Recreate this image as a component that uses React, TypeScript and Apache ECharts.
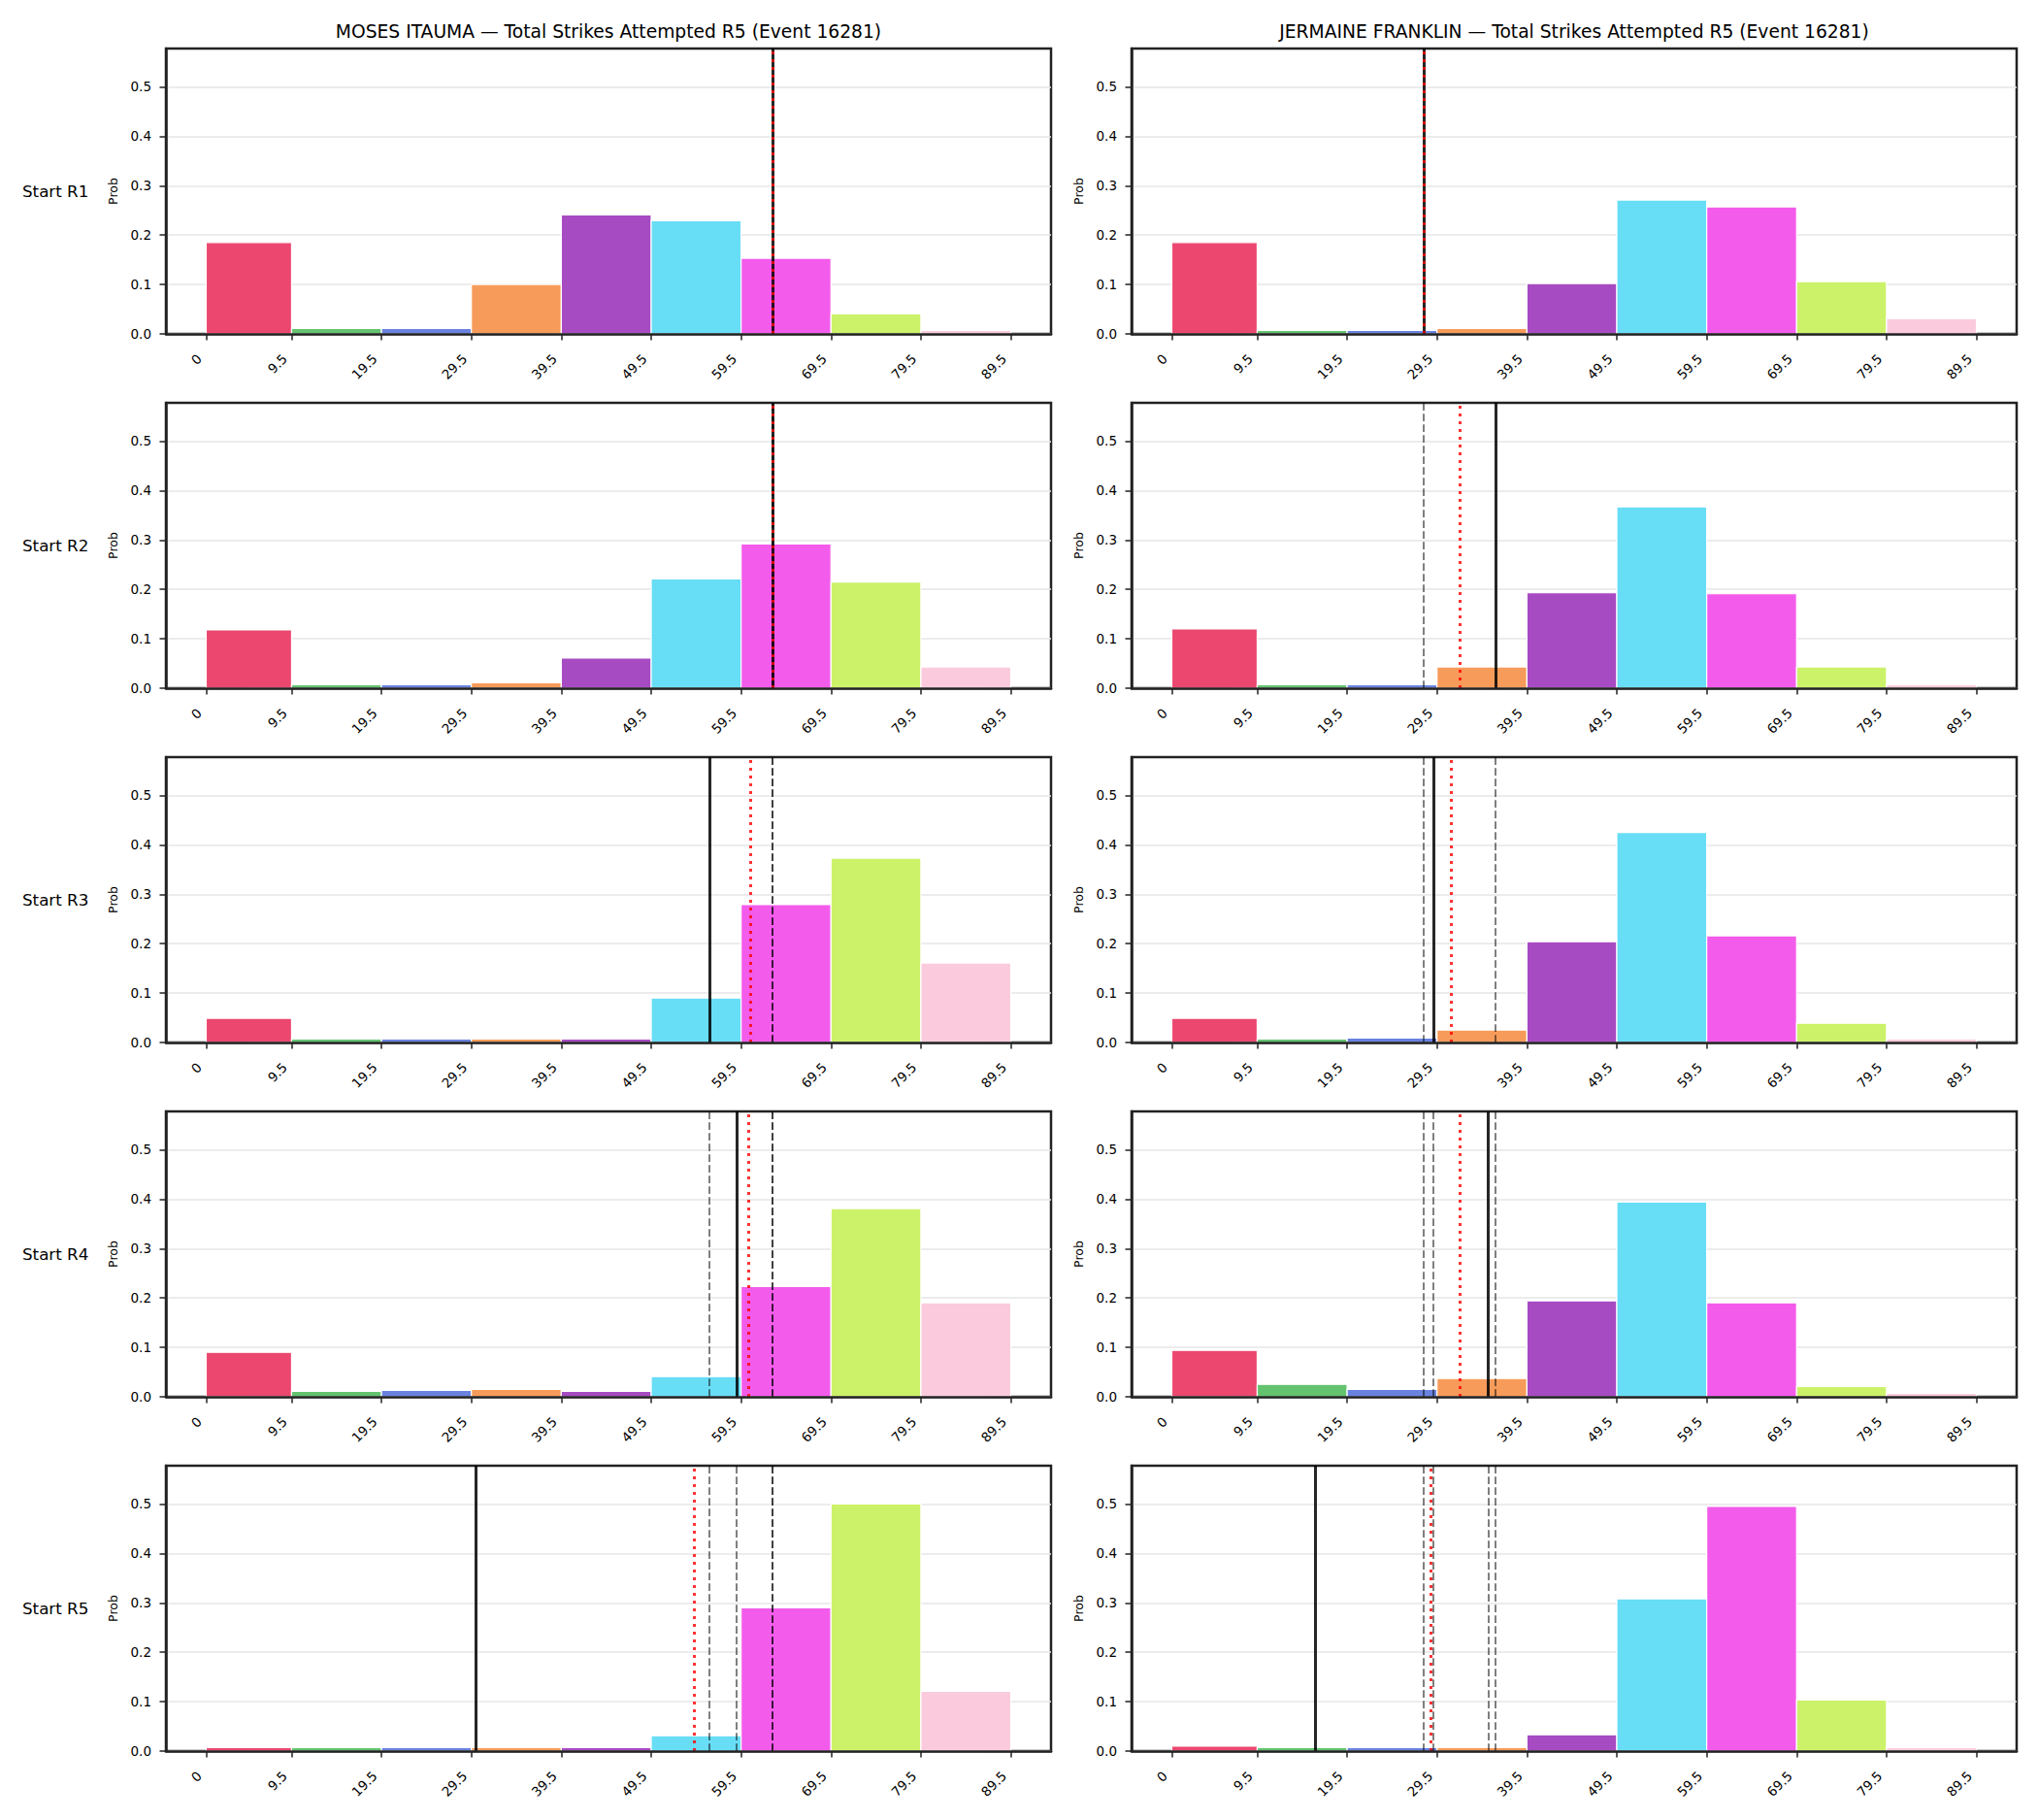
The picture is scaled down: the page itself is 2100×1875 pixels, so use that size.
import React, { useEffect, useRef } from "react";
import * as echarts from "echarts";

// ---- data ----
const BIN_EDGES = [0, 9.5, 19.5, 29.5, 39.5, 49.5, 59.5, 69.5, 79.5, 89.5];
const Y_TICKS = [0, 0.1, 0.2, 0.3, 0.4, 0.5];
const BIN_COLORS = [
  "#eb476f", "#63c36f", "#6982e0", "#f79b5a", "#a74bc3",
  "#68ddf6", "#f35beb", "#ccf26a", "#fbcbdd",
];
const ROW_LABELS = ["Start R1", "Start R2", "Start R3", "Start R4", "Start R5"];
const TITLE_LEFT = "MOSES ITAUMA — Total Strikes Attempted R5 (Event 16281)";
const TITLE_RIGHT = "JERMAINE FRANKLIN — Total Strikes Attempted R5 (Event 16281)";

const ITAUMA_R1 = [0.185, 0.011, 0.011, 0.1, 0.241, 0.229, 0.153, 0.041, 0.007];
const ITAUMA_R2 = [0.118, 0.007, 0.007, 0.011, 0.061, 0.221, 0.292, 0.215, 0.043];
const ITAUMA_R3 = [0.049, 0.007, 0.007, 0.007, 0.007, 0.09, 0.279, 0.373, 0.161];
const ITAUMA_R4 = [0.09, 0.011, 0.013, 0.015, 0.011, 0.041, 0.223, 0.381, 0.19];
const ITAUMA_R5 = [0.007, 0.007, 0.007, 0.007, 0.007, 0.031, 0.29, 0.5, 0.121];

const FRANKLIN_R1 = [0.185, 0.007, 0.007, 0.011, 0.102, 0.271, 0.257, 0.106, 0.031];
const FRANKLIN_R2 = [0.12, 0.007, 0.007, 0.043, 0.193, 0.367, 0.191, 0.043, 0.007];
const FRANKLIN_R3 = [0.049, 0.007, 0.009, 0.025, 0.204, 0.425, 0.216, 0.039, 0.007];
const FRANKLIN_R4 = [0.094, 0.025, 0.015, 0.037, 0.194, 0.394, 0.19, 0.021, 0.007];
const FRANKLIN_R5 = [0.01, 0.007, 0.007, 0.007, 0.033, 0.308, 0.495, 0.1035, 0.007];

// solid line (value at that start), red dotted (mean)
const ITAUMA_ACTUAL = [63, 63, 56, 59, 30];
const ITAUMA_MEAN = [63, 63, 60.5, 60.3, 54.3];
const FRANKLIN_ACTUAL = [28, 36, 29.1, 35.2, 16];
const FRANKLIN_MEAN = [28, 32, 31.1, 32, 28.8];

const ITAUMA_ROWS = [ITAUMA_R1, ITAUMA_R2, ITAUMA_R3, ITAUMA_R4, ITAUMA_R5];
const FRANKLIN_ROWS = [FRANKLIN_R1, FRANKLIN_R2, FRANKLIN_R3, FRANKLIN_R4, FRANKLIN_R5];

// ---- layout ----
const FONT = "DejaVu Sans";
const COL_LEFT = [171, 1166];
const PLOT_W = 912;
const ROW_TOP0 = 50;
const ROW_STEP = 365;
const PLOT_H = 294;
const X_MIN = -4.475;
const X_MAX = 93.975;
const Y_MAX = 0.5775;

function buildOption() {
  const grid: any[] = [];
  const xAxis: any[] = [];
  const yAxis: any[] = [];
  const series: any[] = [];
  const graphic: any[] = [];

  const cols = [
    { rows: ITAUMA_ROWS, actual: ITAUMA_ACTUAL, mean: ITAUMA_MEAN, title: TITLE_LEFT },
    { rows: FRANKLIN_ROWS, actual: FRANKLIN_ACTUAL, mean: FRANKLIN_MEAN, title: TITLE_RIGHT },
  ];

  cols.forEach((col, c) => {
    graphic.push({
      type: "text",
      x: COL_LEFT[c] + PLOT_W / 2,
      y: 32,
      style: {
        text: col.title,
        fontSize: 18.7,
        fontFamily: FONT,
        fill: "#000",
        align: "center",
        verticalAlign: "middle",
      },
    });
    col.rows.forEach((probs, r) => {
      const idx = grid.length;
      const top = ROW_TOP0 + r * ROW_STEP;
      grid.push({
        left: COL_LEFT[c],
        top,
        width: PLOT_W,
        height: PLOT_H,
        show: true,
        borderColor: "#222",
        borderWidth: 2.5,
        backgroundColor: "transparent",
      });
      xAxis.push({
        gridIndex: idx,
        type: "value",
        min: X_MIN,
        max: X_MAX,
        z: 10,
        splitLine: { show: false },
        axisLine: { show: true, onZero: false, lineStyle: { color: "#222", width: 2.5 } },
        axisTick: {
          show: true,
          customValues: BIN_EDGES,
          length: 6.5,
          lineStyle: { color: "#222", width: 1.5 },
        },
        axisLabel: {
          customValues: BIN_EDGES,
          rotate: 45,
          margin: 16,
          padding: [0, 10, 0, 0],
          fontSize: 13.5,
          fontFamily: FONT,
          color: "#000",
          formatter: (v: number) => String(v),
        },
      });
      yAxis.push({
        gridIndex: idx,
        type: "value",
        min: 0,
        max: Y_MAX,
        interval: 0.1,
        splitLine: { show: true, lineStyle: { color: "#e6e6e6", width: 1.5 } },
        axisLine: { show: true, onZero: false, lineStyle: { color: "#222", width: 2.5 } },
        axisTick: {
          show: true,
          customValues: Y_TICKS,
          length: 6.5,
          lineStyle: { color: "#222", width: 1.5 },
        },
        axisLabel: {
          customValues: Y_TICKS,
          margin: 15,
          fontSize: 13.5,
          fontFamily: FONT,
          color: "#000",
          formatter: (v: number) => v.toFixed(1),
        },
      });

      const lineData: any[] = [];
      col.actual.slice(0, r).forEach((v) => {
        lineData.push({
          xAxis: v,
          lineStyle: { color: "#000", opacity: 0.5, width: 2, type: [7.7, 3.3] },
        });
      });
      lineData.push({
        xAxis: col.actual[r],
        lineStyle: { color: "#000", opacity: 0.85, width: 3, type: "solid" },
      });
      lineData.push({
        xAxis: col.mean[r],
        lineStyle: { color: "#ff0000", opacity: 0.8, width: 3, type: [3, 5] },
      });

      series.push({
        type: "custom",
        xAxisIndex: idx,
        yAxisIndex: idx,
        data: probs.map((p, i) => [BIN_EDGES[i], BIN_EDGES[i + 1], p, i]),
        encode: { x: [0, 1], y: 2 },
        renderItem: (params: any, api: any) => {
          const x0 = api.value(0);
          const x1 = api.value(1);
          const y = api.value(2);
          const ci = api.value(3);
          const pTop = api.coord([x0, y]);
          const pBot = api.coord([x1, 0]);
          return {
            type: "rect",
            shape: {
              x: pTop[0],
              y: pTop[1],
              width: pBot[0] - pTop[0],
              height: pBot[1] - pTop[1],
            },
            style: { fill: BIN_COLORS[ci], stroke: "#ffffff", lineWidth: 1.2 },
          };
        },
        markLine: {
          silent: true,
          symbol: "none",
          label: { show: false },
          animation: false,
          data: lineData,
        },
      });

      const cy = top + PLOT_H / 2;
      graphic.push({
        type: "text",
        x: COL_LEFT[c] - 54.5,
        y: cy,
        rotation: Math.PI / 2,
        style: {
          text: "Prob",
          fontSize: 12.5,
          fontFamily: FONT,
          fill: "#000",
          align: "center",
          verticalAlign: "middle",
        },
      });
      if (c === 0) {
        graphic.push({
          type: "text",
          x: 23,
          y: cy,
          style: {
            text: ROW_LABELS[r],
            fontSize: 16.7,
            fontFamily: FONT,
            fill: "#000",
            align: "left",
            verticalAlign: "middle",
          },
        });
      }
    });
  });

  return {
    animation: false,
    backgroundColor: "#ffffff",
    grid,
    xAxis,
    yAxis,
    series,
    graphic,
  };
}

export default function App() {
  const ref = useRef<HTMLDivElement>(null);
  useEffect(() => {
    const chart = echarts.init(ref.current!, null, { renderer: "svg" });
    chart.setOption(buildOption() as any);
    return () => chart.dispose();
  }, []);
  return (
    <div
      ref={ref}
      style={{ position: "absolute", left: 0, top: 0, width: 2100, height: 1875, background: "#fff" }}
    />
  );
}
